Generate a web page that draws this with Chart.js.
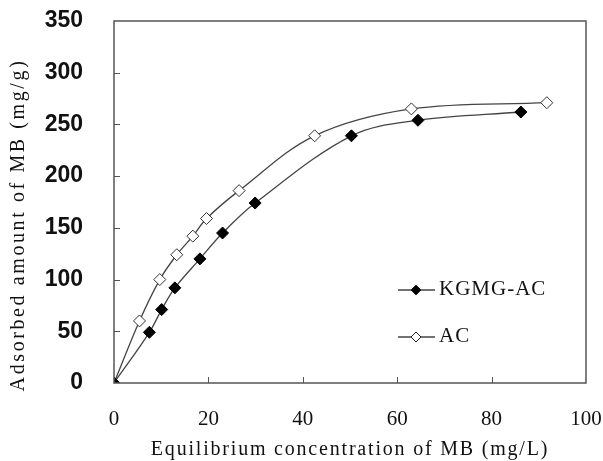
<!DOCTYPE html>
<html>
<head>
<meta charset="utf-8">
<script src="https://cdn.jsdelivr.net/npm/chart.js@4.4.0/dist/chart.umd.min.js"></script>
<style>
  html, body { margin: 0; padding: 0; background: #fff; }
  #wrap { width: 603px; height: 461px; }
</style>
</head>
<body>
<div id="wrap"><canvas id="chart" width="603" height="461"></canvas></div>
<script>
// values
const kgmgX = [0, 7.5, 10.1, 12.9, 18.2, 23.0, 29.9, 50.3, 64.4, 86.2];
const kgmgY = [0, 49, 71, 92, 120, 145, 174, 239, 254, 262];
const acX = [0, 5.4, 9.7, 13.3, 16.7, 19.6, 26.5, 42.5, 63.0, 91.7];
const acY = [0, 60, 100, 124, 142, 159, 186, 239, 265, 271];
const xTicks = [0, 20, 40, 60, 80, 100];
const yTicks = [0, 50, 100, 150, 200, 250, 300, 350];
const seriesNames = ['KGMG-AC', 'AC'];
const xTitle = 'Equilibrium concentration of MB (mg/L)';
const yTitle = 'Adsorbed amount of MB (mg/g)';

const SERIF = '"Liberation Serif", "DejaVu Serif", serif';
const SANS = '"Liberation Sans", Arial, sans-serif';
const INK = '#111';
const LINE = '#444';

const toPoints = (xs, ys) => xs.map((x, i) => ({x, y: ys[i]}));

// box, inward ticks, axis titles and legend
const decor = {
  id: 'decor',
  afterDraw(chart) {
    const {ctx, chartArea: a, scales} = chart;
    ctx.save();
    ctx.strokeStyle = '#555';
    ctx.lineWidth = 1.5;
    ctx.strokeRect(a.left, a.top, a.right - a.left, a.bottom - a.top);

    ctx.lineWidth = 1;
    ctx.beginPath();
    xTicks.slice(1, -1).forEach((v) => {
      const px = Math.round(scales.x.getPixelForValue(v)) + 0.5;
      ctx.moveTo(px, a.bottom);
      ctx.lineTo(px, a.bottom - 6);
    });
    yTicks.slice(1, -1).forEach((v) => {
      const py = Math.round(scales.y.getPixelForValue(v)) + 0.5;
      ctx.moveTo(a.left, py);
      ctx.lineTo(a.left + 6, py);
    });
    ctx.stroke();

    ctx.fillStyle = INK;
    ctx.font = '20px ' + SERIF;
    ctx.letterSpacing = '1.8px';
    ctx.textAlign = 'center';
    ctx.textBaseline = 'middle';
    ctx.fillText(xTitle, (a.left + a.right) / 2, 450);
    ctx.save();
    ctx.letterSpacing = '2.6px';
    ctx.translate(19, 225);
    ctx.rotate(-Math.PI / 2);
    ctx.fillText(yTitle, 0, 0);
    ctx.restore();

    // legend
    const rows = [290, 337];
    ctx.letterSpacing = '1px';
    chart.data.datasets.forEach((ds, i) => {
      const y = rows[i];
      ctx.strokeStyle = LINE;
      ctx.lineWidth = 1.3;
      ctx.beginPath();
      ctx.moveTo(398, y);
      ctx.lineTo(435, y);
      ctx.stroke();
      ctx.beginPath();
      ctx.moveTo(416, y - 5);
      ctx.lineTo(421, y);
      ctx.lineTo(416, y + 5);
      ctx.lineTo(411, y);
      ctx.closePath();
      ctx.fillStyle = ds.pointBackgroundColor;
      ctx.fill();
      ctx.strokeStyle = '#222';
      ctx.lineWidth = 1;
      ctx.stroke();
      ctx.fillStyle = INK;
      ctx.font = '21px ' + SERIF;
      ctx.textAlign = 'left';
      ctx.fillText(ds.label, 439, y - 1);
    });
    ctx.restore();
  },
};

new Chart(document.getElementById('chart'), {
  type: 'line',
  data: {
    datasets: [
      {
        label: seriesNames[0],
        data: toPoints(kgmgX, kgmgY),
        borderColor: LINE,
        borderWidth: 1.3,
        tension: 0.35,
        pointStyle: 'rectRot',
        pointRadius: 6,
        pointBackgroundColor: '#000',
        pointBorderColor: '#000',
        pointBorderWidth: 1,
      },
      {
        label: seriesNames[1],
        data: toPoints(acX, acY),
        borderColor: LINE,
        borderWidth: 1.3,
        tension: 0.35,
        pointStyle: 'rectRot',
        pointRadius: 6,
        pointBackgroundColor: '#fff',
        pointBorderColor: '#333',
        pointBorderWidth: 1,
      },
    ],
  },
  options: {
    responsive: false,
    animation: false,
    layout: {padding: {top: 21, right: 17}},
    plugins: {legend: {display: false}, tooltip: {enabled: false}},
    scales: {
      x: {
        type: 'linear',
        min: 0,
        max: 100,
        afterFit: (s) => {
          s.height = 78;
          s.paddingLeft = 0;
          s.paddingRight = 0;
        },
        afterBuildTicks: (s) => { s.ticks = xTicks.map((v) => ({value: v})); },
        grid: {display: false, drawTicks: false},
        border: {display: false},
        ticks: {color: INK, padding: 24, maxRotation: 0, font: {family: SERIF, size: 21}},
      },
      y: {
        type: 'linear',
        min: 0,
        max: 350,
        afterFit: (s) => {
          s.width = 114;
          s.paddingTop = 0;
          s.paddingBottom = 0;
        },
        afterBuildTicks: (s) => { s.ticks = yTicks.map((v) => ({value: v})); },
        grid: {display: false, drawTicks: false},
        border: {display: false},
        ticks: {color: INK, padding: 31, font: {family: SANS, size: 23, weight: 'bold'}},
      },
    },
  },
  plugins: [decor],
});
</script>
</body>
</html>
